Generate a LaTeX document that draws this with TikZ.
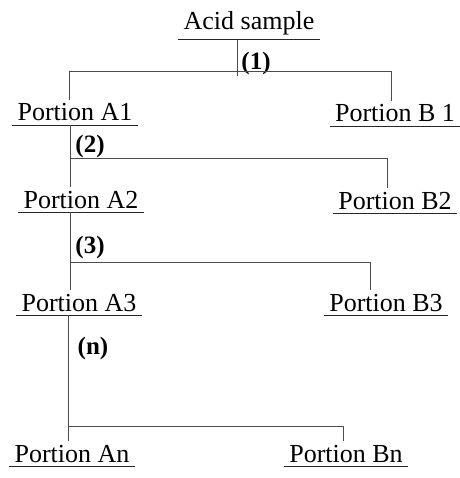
\documentclass[tikz,border=0pt]{standalone}
\usepackage{fontspec}
\setmainfont{Liberation Serif}
\begin{document}
\begin{tikzpicture}[x=1pt,y=-1pt,
  portion/.style={font=\fontsize{26}{30}\selectfont, inner xsep=5pt, inner ysep=4pt, anchor=base},
  steplbl/.style={font=\fontsize{25}{30}\selectfont\bfseries, inner sep=0pt},
  uline/.style={line width=1pt, draw=black!85},
  link/.style={line width=0.75pt, draw=black!70}]
\useasboundingbox (0,0) rectangle (459,478);

% sample and the portions split off it
\node[portion] (acid) at (249,30)  {Acid sample};
\node[portion] (a1)   at (75,121)  {Portion A1};
\node[portion] (b1)   at (395,122) {Portion B 1};
\node[portion] (a2)   at (81,208)  {Portion A2};
\node[portion] (b2)   at (395,209) {Portion B2};
\node[portion] (a3)   at (79,311)  {Portion A3};
\node[portion] (b3)   at (386,311) {Portion B3};
\node[portion] (an)   at (72,462)  {Portion An};
\node[portion] (bn)   at (346,462) {Portion Bn};

\foreach \n in {acid,a1,b1,a2,b2,a3,b3,an,bn}
  \draw[uline] (\n.south west) -- (\n.south east);

% step numbers
\node[steplbl] (n1) at (256,63)  {(1)};
\node[steplbl] (n2) at (90,146)  {(2)};
\node[steplbl] (n3) at (90,247)  {(3)};
\node[steplbl] (nn) at (93,348)  {(n)};

% branch points
\coordinate (s1) at (237,71);
\coordinate (l1) at (69,71);
\coordinate (r1) at (391,71);
\coordinate (j2) at (70,158);
\coordinate (k2) at (387,158);
\coordinate (j3) at (70,262);
\coordinate (k3) at (370,262);
\coordinate (jn) at (68,426);
\coordinate (kn) at (343,426);

% step 1
\draw[link] (acid.south -| s1) -- ([yshift=-5pt]s1);
\draw[link] (a1.north -| l1) -- (l1) -- (r1) -- (b1.north -| r1);
% step 2
\draw[link] (a1.south -| j2) -- (a2.north -| j2);
\draw[link] (j2) -- (k2) -- (b2.north -| k2);
% step 3
\draw[link] (a2.south -| j3) -- (a3.north -| j3);
\draw[link] (j3) -- (k3) -- (b3.north -| k3);
% step n
\draw[link] (a3.south -| jn) -- (an.north -| jn);
\draw[link] (jn) -- (kn) -- (bn.north -| kn);
\end{tikzpicture}
\end{document}
